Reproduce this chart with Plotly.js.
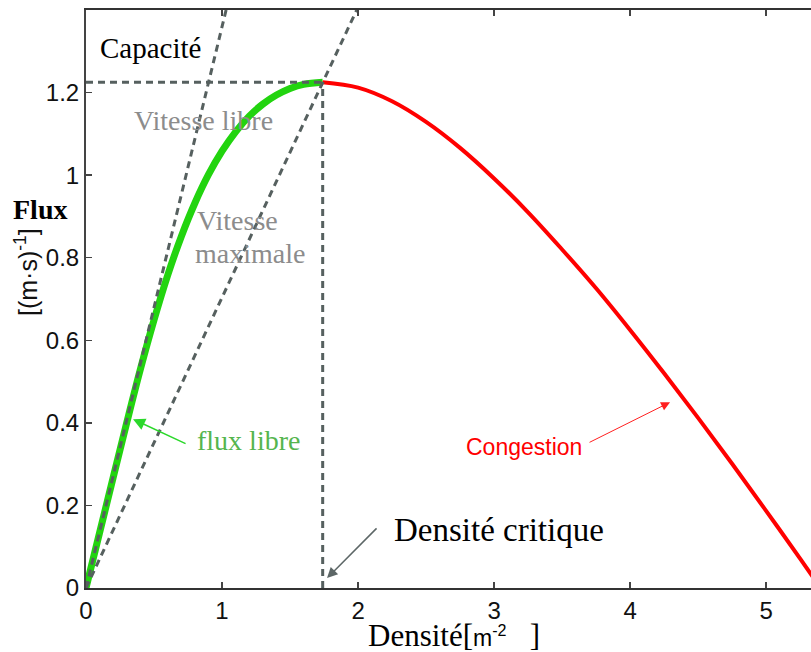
<!DOCTYPE html>
<html>
<head>
<meta charset="utf-8">
<script src="https://cdn.plot.ly/plotly-3.0.1.min.js"></script>
<style>html,body{margin:0;padding:0;background:#fff;}</style>
</head>
<body>
<div id="chart" style="width:811px;height:652px;"></div>
<script>
// Free-flow branch (density m^-2, flux (m·s)^-1)
var densityFree = [0, 0.1, 0.2, 0.3, 0.4, 0.5, 0.6, 0.7, 0.8, 0.9, 1.0, 1.1, 1.2, 1.3, 1.4, 1.5, 1.6, 1.74];
var fluxFree    = [0, 0.134, 0.268, 0.401, 0.530, 0.649, 0.757, 0.851, 0.932, 1.001, 1.058, 1.105, 1.143, 1.172, 1.194, 1.210, 1.220, 1.225];
// Congested branch
var densityCong = [1.74, 2.0, 2.25, 2.5, 2.75, 3.0, 3.25, 3.5, 3.75, 4.0, 4.25, 4.5, 4.75, 5.0, 5.25, 5.4];
var fluxCong    = [1.225, 1.212, 1.179, 1.129, 1.066, 0.992, 0.910, 0.820, 0.726, 0.625, 0.520, 0.412, 0.301, 0.187, 0.071, 0];
// Reference lines
var freeSpeedX = [0, 1.03];
var freeSpeedY = [0, 1.40];
var maxSpeedX  = [0, 1.99];
var maxSpeedY  = [0, 1.40];
var capacityX  = [0, 1.74];
var capacityY  = [1.225, 1.225];
var criticalX  = [1.74, 1.74];
var criticalY  = [0, 1.225];
var xTicks = [0, 1, 2, 3, 4, 5];
var yTicks = [0, 0.2, 0.4, 0.6, 0.8, 1, 1.2];
var yTickText = ['0', '0.2', '0.4', '0.6', '0.8', '1', '1.2'];

var dashStyle = {color: '#56605f', width: 3, dash: '7px,5px'};

var traces = [
  {x: densityFree, y: fluxFree, mode: 'lines', line: {color: '#22d40f', width: 7, shape: 'spline'}, hoverinfo: 'none'},
  {x: densityCong, y: fluxCong, mode: 'lines', line: {color: '#ff0000', width: 4, shape: 'spline'}, hoverinfo: 'none'},
  {x: freeSpeedX, y: freeSpeedY, mode: 'lines', line: dashStyle, hoverinfo: 'none'},
  {x: maxSpeedX, y: maxSpeedY, mode: 'lines', line: dashStyle, hoverinfo: 'none'},
  {x: capacityX, y: capacityY, mode: 'lines', line: dashStyle, hoverinfo: 'none'},
  {x: criticalX, y: criticalY, mode: 'lines', line: dashStyle, hoverinfo: 'none'}
];

var serif = 'Liberation Serif, Times New Roman, serif';
var sans = 'Liberation Sans, Arial, sans-serif';

var annotations = [
  {x: 0.085, y: 1.308, xref: 'x', yref: 'y', text: 'Capacité', showarrow: false, xanchor: 'left', yanchor: 'middle', font: {family: serif, size: 29, color: '#000'}},
  {x: 0.335, y: 1.132, xref: 'x', yref: 'y', text: 'Vitesse libre', showarrow: false, xanchor: 'left', yanchor: 'middle', font: {family: serif, size: 28, color: '#8c8c8c'}},
  {x: 0.80, y: 0.889, xref: 'x', yref: 'y', text: 'Vitesse', showarrow: false, xanchor: 'left', yanchor: 'middle', font: {family: serif, size: 28, color: '#8c8c8c'}},
  {x: 0.79, y: 0.81, xref: 'x', yref: 'y', text: 'maximale', showarrow: false, xanchor: 'left', yanchor: 'middle', font: {family: serif, size: 28, color: '#8c8c8c'}},
  {x: 0.80, y: 0.358, xref: 'x', yref: 'y', text: 'flux libre', showarrow: false, xanchor: 'left', yanchor: 'middle', font: {family: serif, size: 28, color: '#55b54e'}},
  {x: 2.78, y: 0.341, xref: 'x', yref: 'y', text: 'Congestion', showarrow: false, xanchor: 'left', yanchor: 'middle', font: {family: sans, size: 23, color: '#ff0000'}},
  {x: 2.25, y: 0.14, xref: 'x', yref: 'y', text: 'Densité critique', showarrow: false, xanchor: 'left', yanchor: 'middle', font: {family: serif, size: 33, color: '#000'}},
  // arrows
  {x: 0.346, y: 0.409, ax: 0.743, ay: 0.348, xref: 'x', yref: 'y', axref: 'x', ayref: 'y', text: '', showarrow: true, arrowhead: 2, arrowsize: 1.6, arrowwidth: 1.5, arrowcolor: '#2bd82b', standoff: 0},
  {x: 4.294, y: 0.45, ax: 3.691, ay: 0.351, xref: 'x', yref: 'y', axref: 'x', ayref: 'y', text: '', showarrow: true, arrowhead: 2, arrowsize: 1.8, arrowwidth: 1, arrowcolor: '#ff2020', standoff: 0},
  {x: 1.772, y: 0.024, ax: 2.147, ay: 0.148, xref: 'x', yref: 'y', axref: 'x', ayref: 'y', text: '', showarrow: true, arrowhead: 2, arrowsize: 1.4, arrowwidth: 1.5, arrowcolor: '#5c6666', standoff: 0},
  // axis titles (pixel positions converted below)
  {x: 40, y: 210, xref: 'paper', yref: 'paper', text: '<b>Flux</b>', showarrow: false, xanchor: 'center', yanchor: 'middle', font: {family: serif, size: 28, color: '#000'}},
  {x: 26, y: 272, xref: 'paper', yref: 'paper', text: '[(m·s)<sup>-1</sup>]', textangle: -90, showarrow: false, xanchor: 'center', yanchor: 'middle', font: {family: sans, size: 25, color: '#111'}},
  {x: 454, y: 635, xref: 'paper', yref: 'paper', text: 'Densité[<span style="font-family:Liberation Sans, Arial, sans-serif;font-size:23px">m<sup>-2</sup></span>   ]', showarrow: false, xanchor: 'center', yanchor: 'middle', font: {family: serif, size: 31, color: '#000'}}
];

var L = 86, W = 811 - 86, H = 588 - 10;
annotations.forEach(function (a) {
  if (a.xref === 'paper') {
    a.x = (a.x - L) / W;
    a.y = (588 - a.y) / H;
  }
});

var layout = {
  width: 811, height: 652,
  margin: {l: 86, r: 0, t: 10, b: 64},
  paper_bgcolor: '#fff', plot_bgcolor: '#fff',
  showlegend: false,
  xaxis: {
    range: [0, 5.33], tickvals: xTicks, ticktext: xTicks.map(String),
    ticks: 'inside', ticklen: 6, tickwidth: 1.5, tickcolor: '#444',
    showline: true, linecolor: '#333', linewidth: 2, mirror: 'ticks',
    showgrid: false, zeroline: false,
    tickfont: {family: sans, size: 24, color: '#111'}
  },
  yaxis: {
    range: [0, 1.4], tickvals: yTicks, ticktext: yTickText,
    ticks: 'inside', ticklen: 6, tickwidth: 1.5, tickcolor: '#444',
    showline: true, linecolor: '#444', linewidth: 2,
    showgrid: false, zeroline: false,
    tickfont: {family: sans, size: 24, color: '#111'}
  },
  annotations: annotations
};

Plotly.newPlot('chart', traces, layout, {displayModeBar: false, staticPlot: true});
</script>
</body>
</html>
